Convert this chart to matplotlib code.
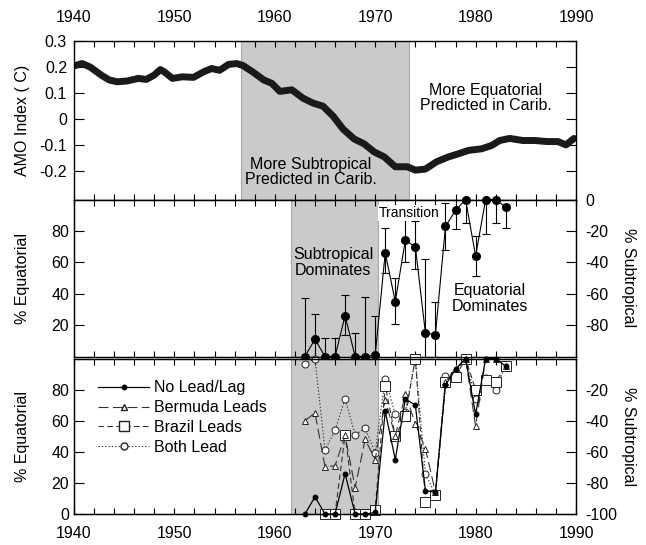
import numpy as np
import matplotlib
matplotlib.use('Agg')
import matplotlib.pyplot as plt
from matplotlib.ticker import MultipleLocator, FuncFormatter
from matplotlib.lines import Line2D

plt.rcParams['font.family'] = ['Liberation Sans', 'DejaVu Sans']
plt.rcParams['font.size'] = 11.5
plt.rcParams['axes.unicode_minus'] = False

# AMO index (smoothed)
amo_year = [1940.0, 1940.8, 1941.6, 1942.7, 1943.5, 1944.3, 1945.3, 1946.4, 1947.2,
            1948.0, 1948.6, 1949.0, 1949.8, 1950.8, 1951.9, 1952.9, 1953.7, 1954.5,
            1955.4, 1956.2, 1956.8, 1957.8, 1958.9, 1959.7, 1960.5, 1961.7, 1962.8,
            1963.8, 1964.8, 1965.8, 1966.8, 1967.9, 1968.9, 1969.9, 1970.9, 1972.0,
            1973.2, 1974.0, 1975.0, 1976.1, 1977.3, 1978.3, 1979.3, 1980.6, 1981.6,
            1982.4, 1983.4, 1984.7, 1985.9, 1987.1, 1988.2, 1989.0, 1989.8]
amo_val = [0.203, 0.212, 0.199, 0.168, 0.149, 0.142, 0.145, 0.155, 0.151,
           0.168, 0.189, 0.18, 0.155, 0.161, 0.159, 0.18, 0.193, 0.186,
           0.209, 0.212, 0.205, 0.18, 0.149, 0.136, 0.105, 0.111, 0.079,
           0.06, 0.048, 0.01, -0.04, -0.078, -0.097, -0.128, -0.147, -0.185,
           -0.185, -0.198, -0.194, -0.166, -0.147, -0.135, -0.122, -0.116, -0.103,
           -0.084, -0.076, -0.084, -0.084, -0.088, -0.088, -0.101, -0.076]

# percent equatorial, 1963-1983
years = list(range(1963, 1984))
no_lag = [0, 11, 0, 0, 26, 0, 0, 1, 66, 35, 74, 70, 15, 14, 83, 93, 100, 64, 100, 100, 95]
bar_hi = [37, 27, 12, 12, 39, 15, 38, 26, 82, 50, 87, 86, 62, 35, 98, 100, 100, 77, 100, 100, 95]
bar_lo = [0, 0, 0, 0, 14, 0, 0, 0, 53, 21, 60, 56, 0, 0, 68, 81, 85, 51, 78, 85, 82]

bermuda = [60, 65, 30.5, 31, 50.5, 17, 48, 35, 73.5, 50, 77, 58, 42, 14, 85, 93, 100, 56.5, 100, 100, 95]
both = [96.5, 100, 41, 54, 74, 51, 55, 39.5, 87, 64, 65.5, 100, 26, 12.5, 88.5, 91.5, 100, 74, 87.5, 80, 96]
brazil_years = list(range(1965, 1984))
brazil = [0, 0, 51, 0, 0, 2.5, 82.5, 50, 63, 100, 8, 12, 85, 88, 100, 80, 86, 85, 95]

shade_top = (1956.6, 1973.4)
shade_low = (1961.6, 1970.25)
grey = '#c9cacc'

fig = plt.figure(figsize=(6.46, 5.45), dpi=100)
L, W = 74 / 646, 502 / 646
ax1 = fig.add_axes([L, 1 - 199.5 / 545, W, 158.8 / 545])
ax2 = fig.add_axes([L, 1 - 356.5 / 545, W, 157 / 545])
ax3 = fig.add_axes([L, 1 - 514 / 545, W, 155.5 / 545])


def style_x(ax):
    ax.set_xlim(1940, 1990)
    ax.xaxis.set_major_locator(MultipleLocator(10))
    ax.xaxis.set_minor_locator(MultipleLocator(2))
    ax.tick_params(axis='x', which='both', direction='in', top=True, bottom=True,
                   length=4, width=0.8)
    ax.tick_params(axis='y', which='both', direction='in', length=7, width=0.8)
    for s in ax.spines.values():
        s.set_linewidth(1.0)


# --- AMO index ---
ax1.axvspan(*shade_top, color=grey, ec='#a8a8aa', lw=0.8, zorder=0)
ax1.plot(amo_year, amo_val, color='#1a1a1a', lw=5, solid_capstyle='round',
         solid_joinstyle='round')
style_x(ax1)
ax1.set_ylim(-0.311, 0.3)
ax1.set_yticks([-0.2, -0.1, 0, 0.1, 0.2, 0.3])
ax1.yaxis.set_major_formatter(FuncFormatter(lambda v, p: '0' if abs(v) < 1e-9 else f'{v:.1f}'))
ax1.tick_params(axis='y', right=True, labelright=False, pad=5)
ax1.tick_params(axis='x', labeltop=True, labelbottom=False, pad=11)
ax1.set_ylabel('AMO Index ( C)')
ax1.yaxis.set_label_coords(-0.088, 0.5)
ax1.text(1981, 0.08, 'More Equatorial\nPredicted in Carib.', ha='center', va='center',
         linespacing=1.05)
ax1.text(1963.6, -0.205, 'More Subtropical\nPredicted in Carib.', ha='center', va='center',
         linespacing=1.05)

# --- No lead/lag with error bars ---
ax2.axvspan(*shade_low, color=grey, ec='#a8a8aa', lw=0.8, zorder=0)
nl = np.array(no_lag)
yerr = [nl - np.array(bar_lo), np.array(bar_hi) - nl]
ax2.errorbar(years, no_lag, yerr=yerr, fmt='-o', color='k', lw=0.8, ms=5.5,
             elinewidth=0.8, capsize=3, capthick=0.8, clip_on=False, zorder=3)
style_x(ax2)
ax2.set_ylim(0, 100)
ax2.set_yticks([20, 40, 60, 80])
ax2.tick_params(axis='x', labelbottom=False)
ax2.set_ylabel('% Equatorial')
ax2.yaxis.set_label_coords(-0.088, 0.5)
ax2.text(1965.8, 60, 'Subtropical\nDominates', ha='center', va='center', linespacing=1.05)
ax2.text(1973.4, 91.5, 'Transition', ha='center', va='center', fontsize=10,
         bbox=dict(fc='white', ec='none', pad=0.5))
ax2.text(1981.4, 37, 'Equatorial\nDominates', ha='center', va='center', linespacing=1.05)
ax2r = ax2.twinx()
ax2r.set_ylim(-100, 0)
ax2r.set_yticks([-80, -60, -40, -20, 0])
ax2r.tick_params(axis='y', direction='in', length=7, width=0.8, pad=7)
ax2r.set_ylabel('% Subtropical', rotation=-90)
ax2r.yaxis.set_label_coords(1.12, 0.5)

# --- lead/lag comparison ---
ax3.axvspan(*shade_low, color=grey, ec='#a8a8aa', lw=0.8, zorder=0)
mk = dict(mfc='white', mec='#222222', mew=0.7, clip_on=False)
ax3.plot(years, both, ls=(0, (1.2, 1.8)), color='#333333', lw=0.8, marker='o', ms=5,
         label='Both Lead', **mk)
ax3.plot(brazil_years, brazil, ls=(0, (5, 3)), color='#333333', lw=0.8, marker='s', ms=6.5,
         label='Brazil Leads', **mk)
ax3.plot(years, bermuda, ls=(0, (9, 4)), color='#333333', lw=0.8, marker='^', ms=5,
         label='Bermuda Leads', **mk)
ax3.plot(years, no_lag, '-', color='k', lw=0.9, marker='o', ms=3.2, clip_on=False,
         label='No Lead/Lag')
style_x(ax3)
ax3.set_ylim(0, 100)
ax3.set_yticks([0, 20, 40, 60, 80])
ax3.tick_params(axis='x', pad=9)
ax3.set_ylabel('% Equatorial')
ax3.yaxis.set_label_coords(-0.088, 0.5)
ax3r = ax3.twinx()
ax3r.set_ylim(-100, 0)
ax3r.set_yticks([-100, -80, -60, -40, -20])
ax3r.tick_params(axis='y', direction='in', length=7, width=0.8, pad=7)
ax3r.set_ylabel('% Subtropical', rotation=-90)
ax3r.yaxis.set_label_coords(1.12, 0.5)

h = [
    Line2D([], [], color='k', lw=0.9, marker='o', ms=3.2),
    Line2D([], [], color='#333333', lw=0.8, ls=(0, (9, 4)), marker='^', ms=5, mfc='white', mec='#222222'),
    Line2D([], [], color='#333333', lw=0.8, ls=(0, (5, 3)), marker='s', ms=6.5, mfc='white', mec='#222222'),
    Line2D([], [], color='#333333', lw=0.8, ls=(0, (1.2, 1.8)), marker='o', ms=5, mfc='white', mec='#222222'),
]
ax3.legend(h, ['No Lead/Lag', 'Bermuda Leads', 'Brazil Leads', 'Both Lead'],
           loc='upper left', bbox_to_anchor=(0.035, 0.9), frameon=False,
           handlelength=3.2, handletextpad=0.3, labelspacing=0.3, borderaxespad=0)

fig.savefig('out.png', dpi=100)
